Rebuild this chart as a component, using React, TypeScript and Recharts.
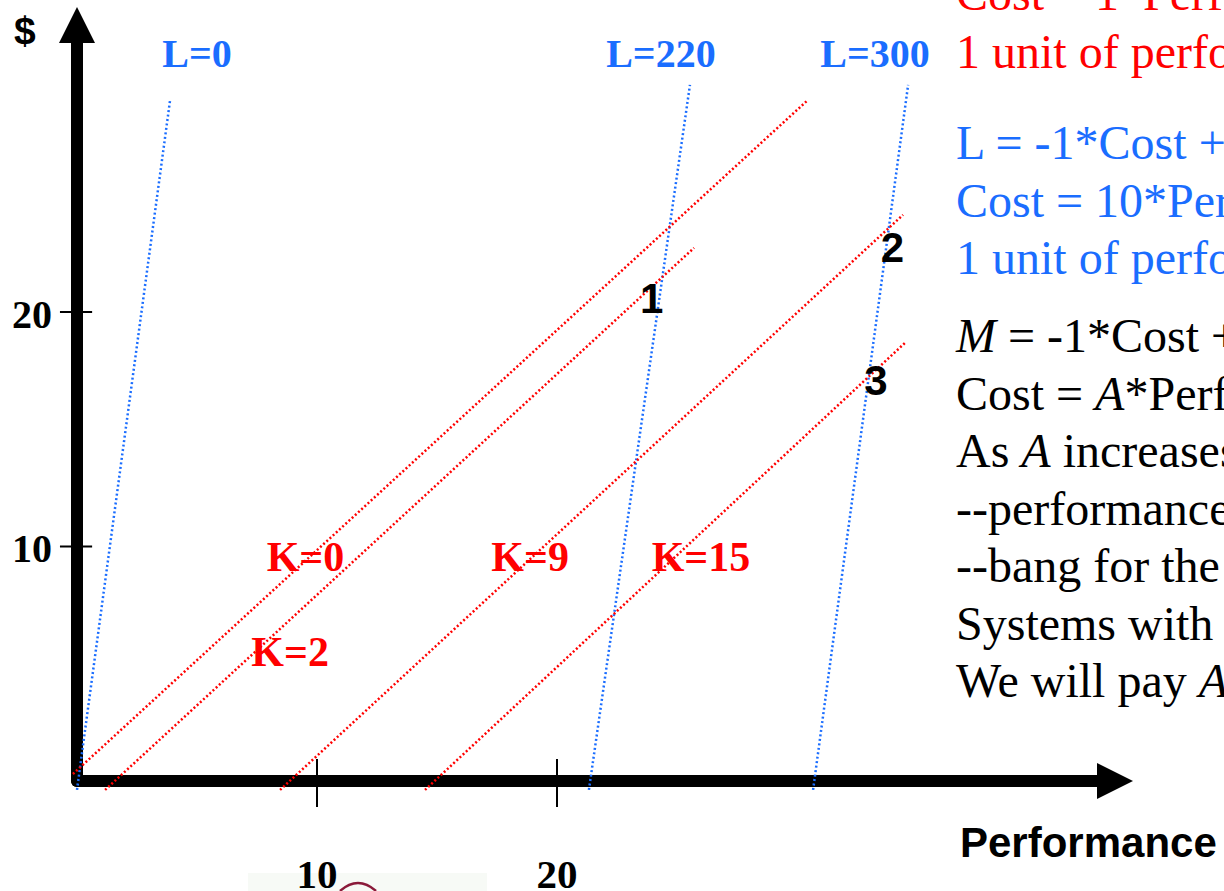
import React from "react";
import { LineChart, Line, XAxis, YAxis, ReferenceLine, ReferenceDot } from "recharts";

const SERIF = '"Liberation Serif", "Times New Roman", Times, serif';
const SANS = '"Liberation Sans", Arial, Helvetica, sans-serif';
const RED = "#ff0000";
const BLUE = "#1a6dff";

// iso-L lines (blue): [performance, $] at the low and high end
const lNames = ["L=0", "L=220", "L=300"];
const lLow = [[0, -0.38], [21.33, -0.38], [30.67, -0.38]];
const lHigh = [[3.88, 29.04], [25.54, 29.68], [34.63, 29.68]];

// iso-K lines (red)
const kNames = ["K=0", "K=2", "K=9", "K=15"];
const kLow = [[-0.17, 0.3], [1.17, -0.38], [8.46, -0.38], [14.5, -0.38]];
const kHigh = [[30.46, 29.04], [25.71, 22.73], [34.42, 24.14], [34.5, 18.68]];

// numbered intersections
const pointNames = ["1", "2", "3"];

const xTicks = [10, 20];
const yTicks = [10, 20];

// label anchors (data coords)
const lLabelAt = [[5.0, 30.45], [24.33, 30.45], [33.25, 30.45]];
const kLabelAt = [[9.52, 8.96], [8.88, 4.9], [18.88, 8.96], [26.0, 8.96]];
const pointAt = [[23.94, 19.96], [33.98, 22.13], [33.29, 16.46]];

const seg = (a: number[], b: number[]) => [
  { x: a[0], y: a[1] },
  { x: b[0], y: b[1] },
];

const xAxisLine = seg([0, 0], [42.6, 0]);
const yAxisLine = seg([0, 0], [0, 31.6]);

function XTick(props: any) {
  const { x, y, payload } = props;
  return (
    <text x={x} y={y + 97} textAnchor="middle" fontFamily={SERIF} fontWeight="bold" fontSize={41} fill="#000">
      {payload.value}
    </text>
  );
}

function YTick(props: any) {
  const { x, y, payload } = props;
  return (
    <text x={x - 19} y={y + 16} textAnchor="end" fontFamily={SERIF} fontWeight="bold" fontSize={40} fill="#000">
      {payload.value}
    </text>
  );
}

const textShape = (label: string, color: string, family: string, size: number) => (p: any) => (
  <text x={p.cx} y={p.cy} textAnchor="middle" fill={color} fontFamily={family} fontWeight="bold" fontSize={size}>
    {label}
  </text>
);

const upArrow = (p: any) => (
  <polygon points={`${p.cx},${p.cy} ${p.cx - 18},${p.cy + 36} ${p.cx + 18},${p.cy + 36}`} fill="#000" />
);
const rightArrow = (p: any) => (
  <polygon points={`${p.cx},${p.cy} ${p.cx - 36},${p.cy - 18} ${p.cx - 36},${p.cy + 18}`} fill="#000" />
);

const noteStyle: React.CSSProperties = {
  position: "absolute",
  left: 956,
  fontFamily: SERIF,
  fontSize: 48,
  lineHeight: "57.5px",
  whiteSpace: "nowrap",
};

export default function App() {
  return (
    <div style={{ position: "absolute", left: 0, top: 0, width: 1224, height: 891, overflow: "hidden", background: "#fff" }}>
      {/* bit of a pasted picture peeking in under the axis */}
      <svg style={{ position: "absolute", left: 248, top: 873 }} width={239} height={18}>
        <rect x={0} y={0} width={239} height={18} fill="#f7faf6" />
        <path d="M 92 18 Q 110 2 128 18" fill="none" stroke="#8a1a3a" strokeWidth={2.5} />
      </svg>

      <div style={{ position: "absolute", left: 0, top: 0 }}>
        <LineChart width={1224} height={891} margin={{ top: 7, right: 91, bottom: 0, left: 0 }}>
          <XAxis
            dataKey="x"
            type="number"
            domain={[-0.25, 44]}
            ticks={xTicks}
            interval={0}
            axisLine={false}
            tickLine={false}
            tickSize={0}
            tickMargin={0}
            height={100}
            tick={<XTick />}
          />
          <YAxis
            type="number"
            domain={[-0.426, 33]}
            ticks={yTicks}
            interval={0}
            axisLine={false}
            tickLine={false}
            tickSize={0}
            tickMargin={0}
            width={71}
            tick={<YTick />}
          />

          <Line data={yAxisLine} dataKey="y" stroke="#000" strokeWidth={12} strokeLinecap="round" dot={false} activeDot={false} isAnimationActive={false} />
          <Line data={xAxisLine} dataKey="y" stroke="#000" strokeWidth={12} strokeLinecap="round" dot={false} activeDot={false} isAnimationActive={false} />

          {xTicks.map((t) => (
            <ReferenceLine key={"xt" + t} segment={[{ x: t, y: 0.94 }, { x: t, y: -1.11 }]} stroke="#000" strokeWidth={2} ifOverflow="visible" />
          ))}
          {yTicks.map((t) => (
            <ReferenceLine key={"yt" + t} segment={[{ x: -0.71, y: t }, { x: 0.63, y: t }]} stroke="#000" strokeWidth={2} ifOverflow="visible" />
          ))}

          {lNames.map((n, i) => (
            <Line
              key={n}
              data={seg(lLow[i], lHigh[i])}
              dataKey="y"
              stroke={BLUE}
              strokeWidth={2.5}
              strokeDasharray="2 2.5"
              dot={false}
              activeDot={false}
              isAnimationActive={false}
            />
          ))}
          {kNames.map((n, i) => (
            <Line
              key={n}
              data={seg(kLow[i], kHigh[i])}
              dataKey="y"
              stroke={RED}
              strokeWidth={2.5}
              strokeDasharray="2 2.3"
              dot={false}
              activeDot={false}
              isAnimationActive={false}
            />
          ))}

          <ReferenceDot x={0} y={33} r={0} ifOverflow="visible" shape={upArrow} />
          <ReferenceDot x={44} y={0} r={0} ifOverflow="visible" shape={rightArrow} />

          {lNames.map((n, i) => (
            <ReferenceDot key={"ll" + n} x={lLabelAt[i][0]} y={lLabelAt[i][1]} r={0} ifOverflow="visible" shape={textShape(n, BLUE, SERIF, 40)} />
          ))}
          {kNames.map((n, i) => (
            <ReferenceDot key={"kl" + n} x={kLabelAt[i][0]} y={kLabelAt[i][1]} r={0} ifOverflow="visible" shape={textShape(n, RED, SERIF, 42)} />
          ))}
          {pointNames.map((n, i) => (
            <ReferenceDot key={"pt" + n} x={pointAt[i][0]} y={pointAt[i][1]} r={0} ifOverflow="visible" shape={textShape(n, "#000", SANS, 42)} />
          ))}
        </LineChart>
      </div>

      <span style={{ position: "absolute", left: 14, top: 11, fontFamily: SANS, fontWeight: "bold", fontSize: 39, lineHeight: 1 }}>$</span>
      <span style={{ position: "absolute", left: 960, top: 822, fontFamily: SANS, fontWeight: "bold", fontSize: 42, lineHeight: 1 }}>Performance</span>

      <div style={{ ...noteStyle, top: -35, color: RED }}>
        <div>Cost = 1*Performance + K</div>
        <div>1 unit of performance costs $1</div>
      </div>
      <div style={{ ...noteStyle, top: 114, color: BLUE }}>
        <div>L = -1*Cost + 10*Performance</div>
        <div>Cost = 10*Performance - L</div>
        <div>1 unit of performance costs $10</div>
      </div>
      <div style={{ ...noteStyle, top: 307, color: "#000" }}>
        <div><i>M</i> = -1*Cost + <i>A</i>*Performance</div>
        <div>Cost = <i>A</i>*Performance - <i>M</i></div>
        <div>As <i>A</i> increases</div>
        <div>--performance costs more</div>
        <div>--bang for the buck drops</div>
        <div>Systems with higher performance win</div>
        <div>We will pay <i>A</i> per unit</div>
      </div>
    </div>
  );
}
